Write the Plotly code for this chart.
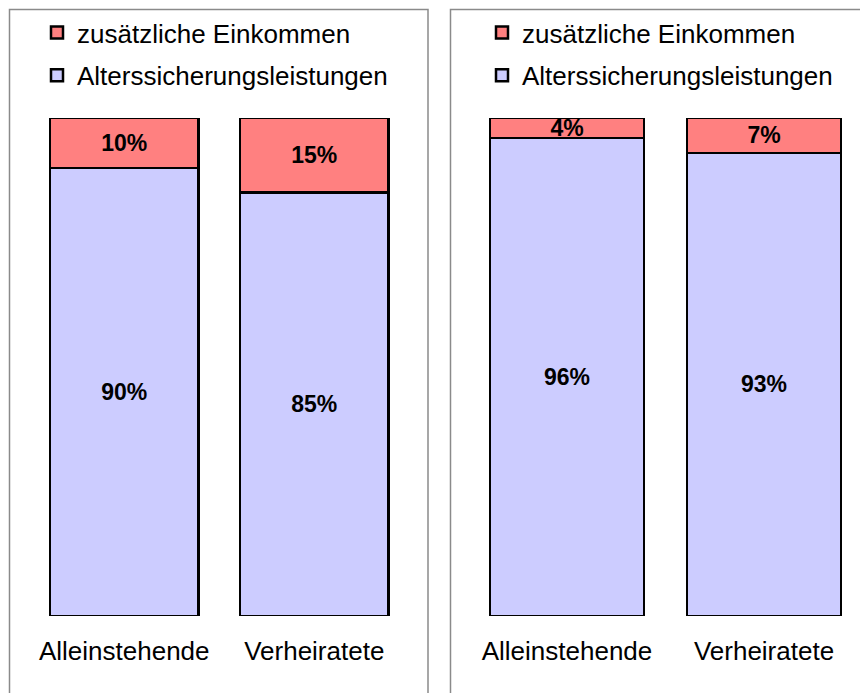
import plotly.graph_objects as go

categories = ["Alleinstehende", "Verheiratete"]
left_alters = [90, 85]
left_zusatz = [10, 15]
right_alters = [96, 93]
right_zusatz = [4, 7]
series_names = ["Alterssicherungsleistungen", "zusätzliche Einkommen"]

# page body has an 8px margin, so the figure is offset by 8px
OFF = 8
W, H = 868 - OFF, 693 - OFF
FONT = "Liberation Sans, Arial, sans-serif"
C_ALT = "#CCCCFF"
C_ZUS = "#FF8080"


def px_x(p):
    return (p - OFF) / W


def px_y(p):
    return 1 - (p - OFF) / H


fig = go.Figure()


def add_panel(alters, zusatz, xa, ya, legend):
    fig.add_trace(go.Bar(
        x=categories, y=alters, name=series_names[0], xaxis=xa, yaxis=ya,
        marker=dict(color=C_ALT, line=dict(color="black", width=2.5)),
        text=[f"{v}%" for v in alters], textposition="inside",
        insidetextanchor="middle", constraintext="none",
        textfont=dict(family=FONT, size=23, color="black", weight="bold"),
        legend=legend, legendgroup=legend + "a", legendrank=2,
        width=0.78, hoverinfo="skip"))
    fig.add_trace(go.Bar(
        x=categories, y=zusatz, name=series_names[1], xaxis=xa, yaxis=ya,
        marker=dict(color=C_ZUS, line=dict(color="black", width=2.5)),
        text=[f"{v}%" for v in zusatz], textposition="inside",
        insidetextanchor="middle", constraintext="none",
        textfont=dict(family=FONT, size=23, color="black", weight="bold"),
        legend=legend, legendgroup=legend + "z", legendrank=1,
        width=0.78, hoverinfo="skip"))


add_panel(left_alters, left_zusatz, "x", "y", "legend")
add_panel(right_alters, right_zusatz, "x2", "y2", "legend2")

ydom = [px_y(616), px_y(118)]
axis_common = dict(
    showgrid=False, zeroline=False, showline=False, ticks="outside",
    ticklen=12, tickcolor="rgba(0,0,0,0)", range=[-0.5, 1.5],
    tickfont=dict(family=FONT, size=26, color="black"))
yaxis_common = dict(range=[0, 100], showgrid=False, zeroline=False,
                    showline=False, showticklabels=False, domain=ydom)

legend_common = dict(
    orientation="v", traceorder="grouped", tracegroupgap=6,
    font=dict(family=FONT, size=26, color="black"),
    bgcolor="rgba(0,0,0,0)", xanchor="left", yanchor="top")

fig.update_layout(
    width=W, height=H, margin=dict(l=0, r=0, t=0, b=0),
    paper_bgcolor="white", plot_bgcolor="rgba(0,0,0,0)",
    barmode="stack",
    xaxis=dict(domain=[px_x(29.25), px_x(409.25)], **axis_common),
    xaxis2=dict(domain=[px_x(468.5), px_x(862.5)], anchor="y2", **axis_common),
    yaxis=yaxis_common, yaxis2=dict(anchor="x2", **yaxis_common),
    legend=dict(x=px_x(37), y=px_y(9), **legend_common),
    legend2=dict(x=px_x(482), y=px_y(9), **legend_common),
    showlegend=True,
    shapes=[
        dict(type="rect", xref="paper", yref="paper", x0=px_x(9.5), x1=px_x(428),
             y0=-0.2, y1=px_y(9.5), line=dict(color="#8a8a8a", width=1.5)),
        dict(type="rect", xref="paper", yref="paper", x0=px_x(450.5), x1=1.2,
             y0=-0.2, y1=px_y(9.5), line=dict(color="#8a8a8a", width=1.5)),
    ],
)

fig.write_html("out.html")
